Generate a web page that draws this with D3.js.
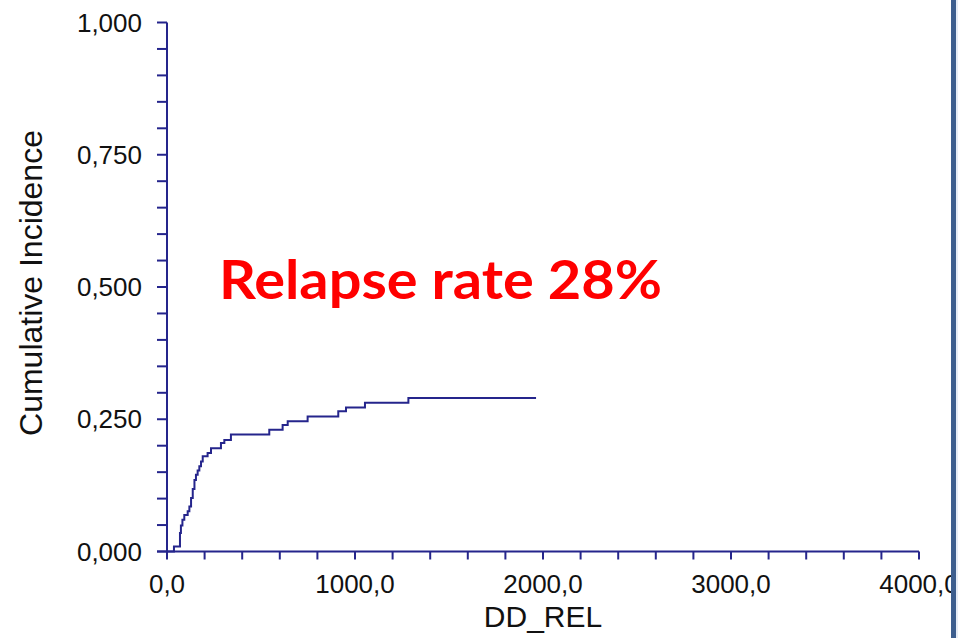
<!DOCTYPE html>
<html>
<head>
<meta charset="utf-8">
<script src="https://cdn.jsdelivr.net/npm/d3@7"></script>
<style>
  html, body { margin: 0; padding: 0; background: #fff; }
  svg { display: block; }
</style>
</head>
<body>
<svg id="chart" width="961" height="638"></svg>
<script>
// Cumulative incidence of relapse (step function), days since diagnosis
const timeDays = [0, 37, 69, 74, 82, 92, 110, 119, 128, 137, 146, 154, 163, 172, 181, 190, 216, 234, 287, 305, 340, 544, 615, 642, 748, 911, 952, 1053, 1284, 1963];
const cumInc   = [0, 0.0095, 0.035, 0.049, 0.060, 0.069, 0.076, 0.085, 0.101, 0.118, 0.135, 0.145, 0.153, 0.161, 0.170, 0.180, 0.186, 0.195, 0.205, 0.211, 0.221, 0.230, 0.239, 0.246, 0.255, 0.265, 0.272, 0.281, 0.290, 0.290];

const xTickValues = [0, 1000, 2000, 3000, 4000];
const xTickLabels = ["0,0", "1000,0", "2000,0", "3000,0", "4000,0"];
const yTickValues = [0, 0.25, 0.5, 0.75, 1.0];
const yTickLabels = ["0,000", "0,250", "0,500", "0,750", "1,000"];

const xTitle = "DD_REL";
const yTitle = "Cumulative Incidence";
const note = "Relapse rate 28%";

const axisColor = "#25258c";
const lineColor = "#25258c";

const svg = d3.select("#chart");
const plotLeft = 167, plotRight = 919, plotTop = 22.5, plotBottom = 551.5;

const x = d3.scaleLinear().domain([0, 4000]).range([plotLeft, plotRight]);
const y = d3.scaleLinear().domain([0, 1]).range([plotBottom, plotTop]);

// minor ticks every 200 days / every 0.05
const xMinor = d3.range(0, 4000 + 1, 200);
const yMinor = d3.range(0, 1.0001, 0.05);

// axis lines
svg.append("line")
  .attr("x1", x(0)).attr("x2", x(0))
  .attr("y1", y(1)).attr("y2", plotBottom + 7)
  .attr("stroke", axisColor).attr("stroke-width", 2);
svg.append("line")
  .attr("x1", plotLeft - 10).attr("x2", x(4000))
  .attr("y1", y(0)).attr("y2", y(0))
  .attr("stroke", axisColor).attr("stroke-width", 2);

// y ticks (pointing left)
svg.append("g").selectAll("line").data(yMinor).join("line")
  .attr("x1", plotLeft - 10).attr("x2", plotLeft)
  .attr("y1", d => y(d)).attr("y2", d => y(d))
  .attr("stroke", axisColor).attr("stroke-width", 2);

// x ticks (pointing down)
svg.append("g").selectAll("line").data(xMinor).join("line")
  .attr("x1", d => x(d)).attr("x2", d => x(d))
  .attr("y1", plotBottom).attr("y2", plotBottom + 8)
  .attr("stroke", axisColor).attr("stroke-width", 2);

// tick labels
svg.append("g").selectAll("text").data(yTickValues).join("text")
  .attr("x", 142).attr("y", d => y(d) + 9)
  .attr("text-anchor", "end")
  .attr("font-family", "'Liberation Sans', Arial, sans-serif")
  .attr("font-size", 26).attr("fill", "#111")
  .text((d, i) => yTickLabels[i]);

svg.append("g").selectAll("text").data(xTickValues).join("text")
  .attr("x", d => x(d)).attr("y", 593)
  .attr("text-anchor", "middle")
  .attr("font-family", "'Liberation Sans', Arial, sans-serif")
  .attr("font-size", 26).attr("fill", "#111")
  .text((d, i) => xTickLabels[i]);

// axis titles
svg.append("text")
  .attr("x", (plotLeft + plotRight) / 2).attr("y", 627)
  .attr("text-anchor", "middle")
  .attr("font-family", "'Liberation Sans', Arial, sans-serif")
  .attr("font-size", 30).attr("fill", "#111")
  .text(xTitle);

svg.append("text")
  .attr("transform", `translate(42, 283) rotate(-90)`)
  .attr("text-anchor", "middle")
  .attr("font-family", "'Liberation Sans', Arial, sans-serif")
  .attr("font-size", 32).attr("fill", "#111")
  .text(yTitle);

// step curve
const pts = timeDays.map((t, i) => [t, cumInc[i]]);
const line = d3.line()
  .x(d => x(d[0])).y(d => y(d[1]))
  .curve(d3.curveStepAfter);
svg.append("path")
  .attr("d", line(pts))
  .attr("fill", "none")
  .attr("stroke", lineColor)
  .attr("stroke-width", 2);

// annotation
svg.append("text")
  .attr("x", 219).attr("y", 299)
  .attr("font-family", "Lato, 'Open Sans', sans-serif")
  .attr("font-weight", "bold")
  .attr("font-size", 54)
  .attr("fill", "#ff0000")
  .attr("textLength", 443)
  .attr("lengthAdjust", "spacingAndGlyphs")
  .text(note);

// right border panel
svg.append("rect").attr("x", 951).attr("y", 0).attr("width", 10).attr("height", 638).attr("fill", "#fff");
svg.append("rect").attr("x", 951).attr("y", 0).attr("width", 5).attr("height", 638).attr("fill", "#3d5e8e");
svg.append("rect").attr("x", 956).attr("y", 0).attr("width", 2).attr("height", 638).attr("fill", "#e6ecf5");
</script>
</body>
</html>
